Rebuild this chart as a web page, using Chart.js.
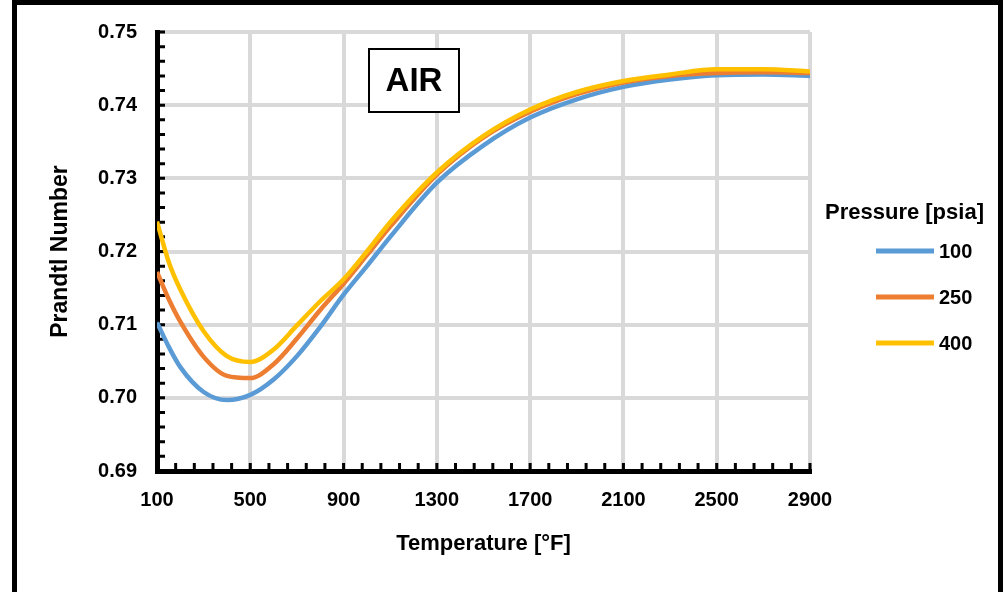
<!DOCTYPE html>
<html lang="en">
<head>
<meta charset="UTF-8">
<title>Prandtl Number of Air</title>
<script src="https://cdn.jsdelivr.net/npm/chart.js"></script>
<style>
    body {
        margin: 0;
        background: #fff;
    }

    .frame {
        position: relative;
        width: 1006px;
        height: 592px;
        overflow: hidden;
    }

    .frame canvas {
        position: absolute;
        left: 0;
        top: 0;
    }

    .edge {
        position: absolute;
        left: 12px;
        top: 0;
        width: 991px;
        height: 600px;
        box-sizing: border-box;
        border: 5px solid #000;
        border-bottom: none;
        pointer-events: none;
    }
</style>
</head>
<body>
<div class="frame">
    <canvas id="prandtlChart" width="1006" height="592"></canvas>
    <div class="edge"></div>
</div>
<script>
    // temperature [°F] and Prandtl number for each pressure [psia]
    const temperatures = [100, 150, 200, 300, 400, 500, 600, 700, 800, 900, 1000, 1100, 1300, 1500, 1700, 1900, 2100, 2300, 2500, 2700, 2900];
    const pr100 = [0.7103, 0.7070, 0.7042, 0.7008, 0.6997, 0.7004, 0.7025, 0.7057, 0.7097, 0.7141, 0.7180, 0.7220, 0.7294, 0.7345, 0.7383, 0.7408, 0.7425, 0.7435, 0.7441, 0.7442, 0.7440];
    const pr250 = [0.7172, 0.7135, 0.7104, 0.7056, 0.7030, 0.7027, 0.7046, 0.7081, 0.7120, 0.7156, 0.7195, 0.7234, 0.7305, 0.7356, 0.7391, 0.7415, 0.7431, 0.7440, 0.7444, 0.7445, 0.7444];
    const pr400 = [0.7241, 0.7186, 0.7148, 0.7091, 0.7057, 0.7049, 0.7066, 0.7099, 0.7132, 0.7162, 0.7200, 0.7240, 0.7308, 0.7358, 0.7394, 0.7418, 0.7433, 0.7442, 0.7449, 0.7449, 0.7446];
    const pressureLabels = ['100', '250', '400'];
    const xTickValues = [100, 500, 900, 1300, 1700, 2100, 2500, 2900];
    const yTickValues = [0.69, 0.70, 0.71, 0.72, 0.73, 0.74, 0.75];

    const FONT = '"Liberation Sans", Arial, sans-serif';

    const toPoints = (ys) => ys.map((y, i) => ({ x: temperatures[i], y: y }));

    // small black tick marks on the inside of both axes
    const minorTicks = {
        id: 'minorTicks',
        beforeDatasetsDraw(chart) {
            const { ctx, chartArea, scales } = chart;
            ctx.save();
            ctx.strokeStyle = '#000';
            ctx.lineWidth = 3;
            ctx.beginPath();
            for (let t = 100; t <= 2900; t += 80) {
                const px = scales.x.getPixelForValue(t);
                ctx.moveTo(px, chartArea.bottom);
                ctx.lineTo(px, chartArea.bottom - 8);
            }
            for (let k = 0; k <= 30; k++) {
                const py = scales.y.getPixelForValue(0.69 + k * 0.002);
                ctx.moveTo(chartArea.left, py);
                ctx.lineTo(chartArea.left + 8, py);
            }
            ctx.stroke();
            ctx.restore();
        }
    };

    // boxed "AIR" label and the legend at the right of the plot
    const extras = {
        id: 'extras',
        afterDraw(chart) {
            const { ctx, chartArea } = chart;
            ctx.save();

            const bx = chartArea.left + 212, by = chartArea.top + 17;
            ctx.fillStyle = '#fff';
            ctx.fillRect(bx, by, 90, 63);
            ctx.strokeStyle = '#000';
            ctx.lineWidth = 2;
            ctx.strokeRect(bx, by, 90, 63);
            ctx.fillStyle = '#000';
            ctx.font = 'bold 33px ' + FONT;
            ctx.textAlign = 'center';
            ctx.textBaseline = 'middle';
            ctx.fillText('AIR', bx + 45, by + 33);

            const lx = chartArea.right + 15;
            ctx.textAlign = 'left';
            ctx.font = 'bold 22px ' + FONT;
            ctx.fillText('Pressure [psia]', lx, chartArea.top + 181);
            ctx.font = 'bold 20px ' + FONT;
            chart.data.datasets.forEach((ds, i) => {
                const ly = chartArea.top + 219 + i * 46;
                ctx.strokeStyle = ds.borderColor;
                ctx.lineWidth = 5;
                ctx.beginPath();
                ctx.moveTo(lx + 51, ly);
                ctx.lineTo(lx + 109, ly);
                ctx.stroke();
                ctx.fillText(ds.label, lx + 114, ly + 1);
            });
            ctx.restore();
        }
    };

    const ctx = document.getElementById('prandtlChart').getContext('2d');
    new Chart(ctx, {
        type: 'line',
        data: {
            datasets: [
                { label: pressureLabels[0], data: toPoints(pr100), borderColor: '#5B9BD5', order: 3 },
                { label: pressureLabels[1], data: toPoints(pr250), borderColor: '#ED7D31', order: 2 },
                { label: pressureLabels[2], data: toPoints(pr400), borderColor: '#FFC000', order: 1 }
            ]
        },
        options: {
            responsive: false,
            animation: false,
            layout: { padding: { left: 0, top: 32, right: 196, bottom: 0 } },
            datasets: {
                line: {
                    borderWidth: 4.5,
                    pointRadius: 0,
                    fill: false,
                    cubicInterpolationMode: 'monotone'
                }
            },
            scales: {
                x: {
                    type: 'linear',
                    min: 100,
                    max: 2900,
                    afterBuildTicks: (s) => { s.ticks = xTickValues.map(v => ({ value: v })); },
                    afterFit: (s) => { s.height = 121; },
                    grid: { color: '#d9d9d9', lineWidth: 4, drawTicks: false },
                    border: { color: '#000', width: 5 },
                    ticks: {
                        padding: 17,
                        color: '#000',
                        maxRotation: 0,
                        font: { family: FONT, weight: 'bold', size: 20 },
                        callback: (v) => String(v)
                    },
                    title: {
                        display: true,
                        text: 'Temperature [°F]',
                        color: '#000',
                        font: { family: FONT, weight: 'bold', size: 22 },
                        padding: { top: 0, bottom: 35 }
                    }
                },
                y: {
                    type: 'linear',
                    min: 0.69,
                    max: 0.75,
                    afterBuildTicks: (s) => { s.ticks = yTickValues.map(v => ({ value: v })); },
                    afterFit: (s) => { s.width = 157; },
                    grid: { color: '#d9d9d9', lineWidth: 4, drawTicks: false },
                    border: { color: '#000', width: 5 },
                    ticks: {
                        padding: 20,
                        color: '#000',
                        font: { family: FONT, weight: 'bold', size: 20 },
                        callback: (v) => v.toFixed(2)
                    },
                    title: {
                        display: true,
                        text: 'Prandtl Number',
                        color: '#000',
                        font: { family: FONT, weight: 'bold', size: 23 },
                        padding: { top: 47, bottom: 0 }
                    }
                }
            },
            plugins: {
                legend: { display: false },
                tooltip: { enabled: false }
            }
        },
        plugins: [minorTicks, extras]
    });
</script>
</body>
</html>
